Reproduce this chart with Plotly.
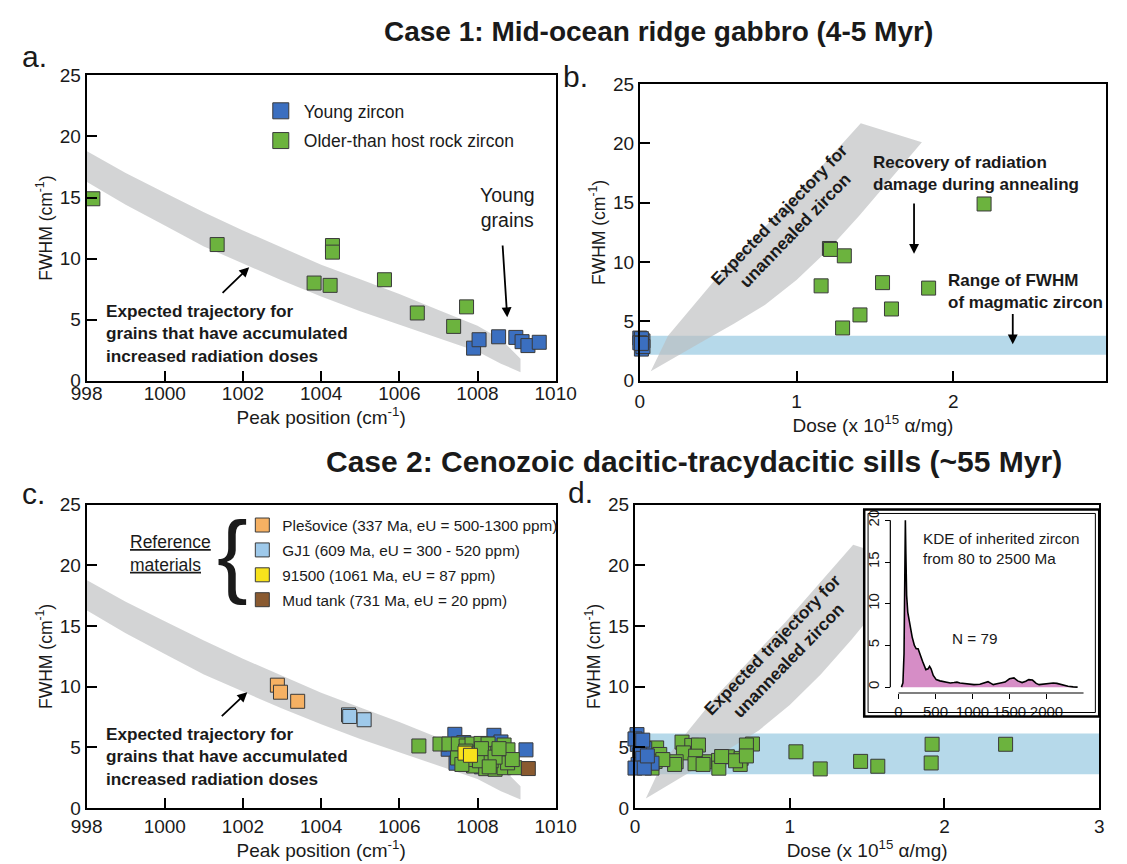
import plotly.graph_objects as go

W, H = 1127, 864
FONT = "Liberation Sans, Arial, sans-serif"
TXT = "#1a1a1a"

# ---------------- data ----------------
# Case 1 (mid-ocean ridge gabbro)
c1_old_peak = [998.16, 1001.34, 1004.29, 1004.29, 1003.82, 1004.23, 1005.62, 1006.46, 1007.39, 1007.72]
c1_old_fwhm = [14.9, 11.15, 11.07, 10.53, 8.0, 7.81, 8.27, 5.55, 4.45, 6.05]
c1_old_dose = [2.197, 1.21, 1.217, 1.305, 1.157, 1.843, 1.549, 1.405, 1.294, 1.606]
c1_young_peak = [1007.90, 1008.04, 1008.54, 1008.98, 1009.14, 1009.29, 1009.58]
c1_young_fwhm = [2.67, 3.36, 3.60, 3.55, 3.20, 2.88, 3.15]
c1_young_dose = [0.01, 0.02, 0.0, 0.01, 0.0, 0.02, 0.01]

# Expected trajectory band (peak position vs FWHM)
band_peak = [998, 999, 1000, 1001, 1002, 1003, 1004, 1005, 1006, 1007, 1008, 1008.6, 1009.1]
band_upper = [18.8, 17.0, 15.4, 13.8, 12.3, 10.9, 9.5, 8.3, 7.1, 5.8, 4.5, 3.4, 1.8]
band_lower = [16.3, 14.4, 12.7, 11.0, 9.6, 8.2, 6.9, 5.7, 4.6, 3.5, 2.4, 1.4, 0.7]

# Expected trajectory for unannealed zircon (dose vs FWHM) polygon
band_dose = [0.07, 0.18, 0.53, 0.97, 1.41, 1.80, 1.6, 1.4, 1.2, 1.0, 0.8, 0.6, 0.4, 0.2, 0.07]
band_dose_fwhm = [0.8, 3.8, 9.3, 15.3, 21.7, 20.1, 17.0, 13.9, 11.0, 8.5, 6.4, 4.8, 3.3, 1.8, 0.8]

# Range of FWHM of magmatic zircon
magmatic_b = [2.2, 3.8]
magmatic_d = [2.8, 6.15]

# Case 2 (Cenozoic sills), panel c
c2_green_peak = [1006.50, 1007.04, 1007.27, 1007.51, 1007.71, 1007.86, 1008.09, 1008.27, 1008.68, 1008.78,
                 1007.49, 1007.98, 1008.27, 1008.52, 1007.90, 1008.21, 1008.60, 1008.45, 1008.68, 1008.95,
                 1008.77, 1008.89, 1007.82, 1008.05, 1008.35, 1007.60, 1008.10, 1008.45, 1007.70, 1008.30, 1008.55]
c2_green_fwhm = [5.12, 5.28, 5.28, 5.28, 5.12, 5.28, 5.33, 5.28, 5.20, 4.80,
                 4.13, 4.53, 4.48, 4.53, 3.47, 3.25, 3.73, 3.20, 3.33, 3.33,
                 3.73, 4.00, 4.00, 3.90, 3.90, 3.60, 4.90, 4.20, 4.70, 3.40, 4.90]
c2_blue_peak = [1007.42, 1008.42, 1008.40, 1009.24, 1007.25, 1007.65, 1008.60, 1008.75, 1007.45, 1008.85, 1008.10, 1008.00]
c2_blue_fwhm = [6.08, 6.00, 5.28, 4.80, 4.85, 5.40, 5.45, 4.50, 3.70, 3.90, 3.40, 5.00]
ples_peak, ples_fwhm = [1002.88, 1002.96, 1003.40], [10.13, 9.55, 8.8]
gj1_peak, gj1_fwhm = [1004.70, 1004.73, 1005.10], [7.68, 7.55, 7.28]
z91500_peak, z91500_fwhm = [1007.68, 1007.82], [4.53, 4.35]
mud_peak, mud_fwhm = [1009.30], [3.26]

# Case 2, panel d
c2_green_dose = [1.04, 1.197, 1.458, 1.569, 1.92, 1.914, 2.395, 0.759, 0.72,
                 0.304, 0.367, 0.41, 0.313, 0.392, 0.266, 0.256, 0.388, 0.48, 0.54, 0.597,
                 0.542, 0.686, 0.68, 0.14, 0.16, 0.13, 0.11, 0.18, 0.44, 0.56, 0.65, 0.72]
c2_green_dfwhm = [4.64, 3.23, 3.85, 3.45, 5.26, 3.72, 5.26, 5.28, 5.2,
                  5.44, 5.17, 5.2, 4.55, 4.28, 3.82, 3.6, 3.66, 3.82, 3.93, 4.23,
                  3.29, 4.1, 3.6, 4.96, 4.42, 3.85, 3.3, 4.0, 3.6, 4.25, 3.9, 4.3]
c2_blue_dose = [0.013, 0.015, 0.063, 0.03, 0.02, 0.11, 0.05, 0.0, 0.06, 0.0, 0.05, 0.08]
c2_blue_dfwhm = [6.06, 5.25, 4.9, 4.4, 3.6, 3.7, 4.1, 3.3, 3.3, 5.7, 5.6, 4.3]

# KDE of inherited zircon (inset)
kde_age = [40, 60, 75, 85, 93, 100, 110, 125, 150, 185, 215, 240, 265, 290, 325, 370, 400, 420, 440,
           470, 510, 560, 600, 650, 700, 750, 790, 830, 880, 950, 1020, 1100, 1160, 1210, 1250, 1280,
           1330, 1390, 1440, 1500, 1560, 1610, 1670, 1720, 1760, 1810, 1860, 1900, 1960, 2030, 2090,
           2140, 2180, 2230, 2290, 2360, 2420]
kde_den = [0, 0.5, 4, 12, 20, 16, 11, 9, 7.5, 6.0, 5.0, 4.6, 4.6, 3.9, 3.1, 2.1, 2.2, 2.5, 2.2,
           1.4, 0.9, 0.75, 0.7, 0.6, 0.5, 0.55, 0.6, 0.5, 0.45, 0.35, 0.3, 0.35, 0.5, 0.65, 0.45, 0.3,
           0.4, 0.5, 0.6, 1.0, 1.1, 0.75, 0.55, 0.7, 0.9, 0.85, 0.45, 0.3, 0.35, 0.45, 0.5,
           0.45, 0.35, 0.2, 0.1, 0.03, 0]

peak_ticks = [998, 1000, 1002, 1004, 1006, 1008, 1010]
fwhm_ticks = [0, 5, 10, 15, 20, 25]

# ---------------- styles ----------------
BLUE = "#3b6fc0"
GREEN = "#6cb33e"
ORANGE = "#f6b163"
LBLUE = "#9ec9ea"
YELLOW = "#f7e21c"
BROWN = "#8a5a30"
BAND_GRAY = "rgba(187,189,191,0.65)"
MAG_BLUE = "#b6d9ea"


def px(xp):
    return xp / W


def py(yp):
    return 1 - yp / H


def mk(color, size=14):
    return dict(symbol="square", size=size, color=color, line=dict(color="#3a3a3a", width=1))


fig = go.Figure()

# ---- panel a ----
fig.add_trace(go.Scatter(x=band_peak + band_peak[::-1], y=band_upper + band_lower[::-1],
                         fill="toself", fillcolor=BAND_GRAY, mode="lines", line=dict(width=0),
                         hoverinfo="skip", showlegend=False, xaxis="x", yaxis="y"))
fig.add_trace(go.Scatter(x=c1_young_peak, y=c1_young_fwhm, mode="markers", marker=mk(BLUE),
                         showlegend=False, cliponaxis=False, xaxis="x", yaxis="y"))
fig.add_trace(go.Scatter(x=c1_old_peak, y=c1_old_fwhm, mode="markers", marker=mk(GREEN),
                         showlegend=False, cliponaxis=False, xaxis="x", yaxis="y"))
# legend entries (larger symbols, as in the original key)
fig.add_trace(go.Scatter(x=[None], y=[None], mode="markers", marker=mk(BLUE, 16),
                         name="Young zircon", legend="legend", legendgroup="g1", legendrank=1,
                         xaxis="x", yaxis="y"))
fig.add_trace(go.Scatter(x=[None], y=[None], mode="markers", marker=mk(GREEN, 16),
                         name="Older-than host rock zircon", legend="legend", legendgroup="g2",
                         legendrank=2, xaxis="x", yaxis="y"))

# ---- panel b ----
fig.add_trace(go.Scatter(x=band_dose, y=band_dose_fwhm, fill="toself", fillcolor=BAND_GRAY,
                         mode="lines", line=dict(width=0), hoverinfo="skip", showlegend=False,
                         xaxis="x2", yaxis="y2"))
fig.add_trace(go.Scatter(x=c1_young_dose, y=c1_young_fwhm, mode="markers", marker=mk(BLUE),
                         showlegend=False, cliponaxis=False, xaxis="x2", yaxis="y2"))
fig.add_trace(go.Scatter(x=c1_old_dose, y=c1_old_fwhm, mode="markers", marker=mk(GREEN),
                         showlegend=False, xaxis="x2", yaxis="y2"))

# ---- panel c ----
fig.add_trace(go.Scatter(x=band_peak + band_peak[::-1], y=band_upper + band_lower[::-1],
                         fill="toself", fillcolor=BAND_GRAY, mode="lines", line=dict(width=0),
                         hoverinfo="skip", showlegend=False, xaxis="x3", yaxis="y3"))
fig.add_trace(go.Scatter(x=ples_peak, y=ples_fwhm, mode="markers", marker=mk(ORANGE),
                         name="Plešovice (337 Ma, eU = 500-1300 ppm)", legend="legend2",
                         legendgroup="r1", legendrank=1, xaxis="x3", yaxis="y3"))
fig.add_trace(go.Scatter(x=gj1_peak, y=gj1_fwhm, mode="markers", marker=mk(LBLUE),
                         name="GJ1 (609 Ma, eU = 300 - 520 ppm)", legend="legend2",
                         legendgroup="r2", legendrank=2, xaxis="x3", yaxis="y3"))
fig.add_trace(go.Scatter(x=c2_blue_peak, y=c2_blue_fwhm, mode="markers", marker=mk(BLUE),
                         showlegend=False, xaxis="x3", yaxis="y3"))
fig.add_trace(go.Scatter(x=c2_green_peak, y=c2_green_fwhm, mode="markers", marker=mk(GREEN),
                         showlegend=False, xaxis="x3", yaxis="y3"))
fig.add_trace(go.Scatter(x=z91500_peak, y=z91500_fwhm, mode="markers", marker=mk(YELLOW),
                         name="91500 (1061 Ma, eU = 87 ppm)", legend="legend2",
                         legendgroup="r3", legendrank=3, xaxis="x3", yaxis="y3"))
fig.add_trace(go.Scatter(x=mud_peak, y=mud_fwhm, mode="markers", marker=mk(BROWN),
                         name="Mud tank (731 Ma, eU = 20 ppm)", legend="legend2",
                         legendgroup="r4", legendrank=4, xaxis="x3", yaxis="y3"))

# ---- panel d ----
fig.add_trace(go.Scatter(x=band_dose, y=band_dose_fwhm, fill="toself", fillcolor=BAND_GRAY,
                         mode="lines", line=dict(width=0), hoverinfo="skip", showlegend=False,
                         xaxis="x4", yaxis="y4"))
fig.add_trace(go.Scatter(x=c2_green_dose, y=c2_green_dfwhm, mode="markers", marker=mk(GREEN),
                         showlegend=False, xaxis="x4", yaxis="y4"))
fig.add_trace(go.Scatter(x=c2_blue_dose, y=c2_blue_dfwhm, mode="markers", marker=mk(BLUE),
                         showlegend=False, cliponaxis=False, xaxis="x4", yaxis="y4"))

# ---- inset KDE ----
fig.add_trace(go.Scatter(x=kde_age, y=kde_den, mode="lines", fill="tozeroy",
                         fillcolor="#d68dc6", line=dict(color="black", width=1.6),
                         showlegend=False, xaxis="x5", yaxis="y5"))


def main_axis(**kw):
    d = dict(showline=True, linewidth=2, linecolor="black", mirror=True, ticks="inside",
             ticklen=10, tickwidth=1.5, tickcolor="black", showgrid=False, zeroline=False,
             tickfont=dict(size=19, family=FONT, color=TXT),
             title_font=dict(size=19, family=FONT, color=TXT))
    d.update(kw)
    return d


peak_title = dict(text="Peak position (cm<sup>-1</sup>)", standoff=0)
dose_title = dict(text="Dose (x 10<sup>15</sup> α/mg)", standoff=0)
fwhm_title = dict(text="FWHM (cm<sup>-1</sup>)", standoff=3, font=dict(size=17.5, family=FONT, color=TXT))

layout = dict(
    width=W, height=H, margin=dict(l=0, r=0, t=0, b=0),
    paper_bgcolor="white", plot_bgcolor="white",
    font=dict(family=FONT, color=TXT),
    xaxis=main_axis(domain=[px(73), px(558)], range=[998, 1010], tickvals=peak_ticks,
                    anchor="y", title=peak_title, ticklabelstandoff=-6),
    yaxis=main_axis(domain=[py(380), py(67)], range=[0, 25], tickvals=fwhm_ticks,
                    anchor="x", title=fwhm_title),
    xaxis2=main_axis(domain=[px(645), px(1127)], range=[0, 2.975], tickvals=[0, 1, 2],
                     anchor="y2", title=dose_title, ticklabelstandoff=2),
    yaxis2=main_axis(domain=[py(380), py(76)], range=[0, 25], tickvals=fwhm_ticks,
                     anchor="x2", title=fwhm_title),
    xaxis3=main_axis(domain=[px(73), px(558)], range=[998, 1010], tickvals=peak_ticks,
                     anchor="y3", title=peak_title),
    yaxis3=main_axis(domain=[py(818), py(507)], range=[0, 25], tickvals=fwhm_ticks,
                     anchor="x3", title=fwhm_title),
    xaxis4=main_axis(domain=[px(640), px(1120)], range=[0, 3], tickvals=[0, 1, 2, 3],
                     anchor="y4", title=dose_title),
    yaxis4=main_axis(domain=[py(818), py(507)], range=[0, 25], tickvals=fwhm_ticks,
                     anchor="x4", title=fwhm_title),
    xaxis5=dict(domain=[px(877), px(1120)], range=[-463, 2712], anchor="free",
                position=py(700), showline=False, ticks="outside", ticklen=5, tickwidth=1,
                tickcolor="black", tickvals=[0, 500, 1000, 1500, 2000], showgrid=False,
                zeroline=False, tickfont=dict(size=15, family=FONT, color=TXT)),
    yaxis5=dict(domain=[py(727), py(512)], range=[-3.86, 21.29], anchor="free",
                position=px(904), showline=False, ticks="outside", ticklen=5, tickwidth=1,
                tickcolor="black", tickvals=[0, 5, 10, 15, 20], tickangle=-90,
                showgrid=False, zeroline=False,
                tickfont=dict(size=15, family=FONT, color=TXT)),
    legend=dict(x=px(250), y=py(85), xanchor="left", yanchor="top", bgcolor="rgba(0,0,0,0)",
                font=dict(size=17.5, family=FONT, color=TXT), tracegroupgap=4,
                itemsizing="trace", itemwidth=36),
    legend2=dict(x=px(234), y=py(511), xanchor="left", yanchor="top",
                 bgcolor="rgba(0,0,0,0)", font=dict(size=15.3, family=FONT, color=TXT),
                 tracegroupgap=2, itemsizing="trace"),
)
fig.update_layout(**layout)

shapes = [
    dict(type="rect", xref="x2 domain", x0=0, x1=1, yref="y2", y0=magmatic_b[0], y1=magmatic_b[1],
         fillcolor=MAG_BLUE, line=dict(width=0), layer="below"),
    dict(type="rect", xref="x4 domain", x0=0, x1=1, yref="y4", y0=magmatic_d[0], y1=magmatic_d[1],
         fillcolor=MAG_BLUE, line=dict(width=0), layer="below"),
    # inset frame
    dict(type="rect", xref="paper", yref="paper", x0=px(877), x1=px(1120), y0=py(724), y1=py(512),
         line=dict(color="black", width=2.5), fillcolor="rgba(0,0,0,0)", layer="above"),
    dict(type="rect", xref="paper", yref="paper", x0=px(881), x1=px(1116), y0=py(720), y1=py(516),
         line=dict(color="black", width=1), fillcolor="rgba(0,0,0,0)", layer="above"),
    # inset axis lines (R style)
    dict(type="line", xref="x5", x0=0, x1=2500, yref="paper", y0=py(700), y1=py(700),
         line=dict(color="black", width=1.2)),
    dict(type="line", xref="paper", x0=px(904), x1=px(904), yref="y5", y0=0, y1=20,
         line=dict(color="black", width=1.2)),
]
fig.update_layout(shapes=shapes)

ann = []


def txt(text, x, y, xref="paper", yref="paper", size=16, bold=False, xanchor="center",
        yanchor="middle", angle=0, align="center"):
    ann.append(dict(text=f"<b>{text}</b>" if bold else text, x=x, y=y, xref=xref, yref=yref,
                    showarrow=False, xanchor=xanchor, yanchor=yanchor, textangle=angle,
                    align=align, font=dict(size=size, family=FONT, color=TXT)))


def arrow(x, y, ax, ay, xref, yref):
    ann.append(dict(text="", x=x, y=y, ax=ax, ay=ay, xref=xref, yref=yref, axref=xref,
                    ayref=yref, showarrow=True, arrowhead=2, arrowsize=1.1, arrowwidth=1.8,
                    arrowcolor="black"))


# titles and panel letters
txt("Case 1: Mid-ocean ridge gabbro (4-5 Myr)", px(664), py(22), size=28, bold=True)
txt("Case 2: Cenozoic dacitic-tracydacitic sills (~55 Myr)", px(701), py(463), size=30, bold=True)
txt("a.", px(4), py(48), size=30, xanchor="left")
txt("b.", px(563), py(68), size=30, xanchor="left")
txt("c.", px(4), py(496), size=30, xanchor="left")
txt("d.", px(569), py(495), size=30, xanchor="left")

# panel a
txt("Expected trajectory for<br>grains that have accumulated<br>increased radiation doses",
    998.45, 3.83, "x", "y", size=17.2, bold=True, xanchor="left", align="left")
arrow(1002.16, 9.3, 1001.44, 7.07, "x", "y")
txt("Young<br>grains", 1008.78, 14.2, "x", "y", size=19.5)
arrow(1008.76, 5.2, 1008.64, 11.2, "x", "y")

# panel b
txt("Expected trajectory for<br>unannealed zircon", 0.94, 13.4, "x2", "y2", size=17.2,
    bold=True, angle=-46)
txt("Recovery of radiation<br>damage during annealing", 1.478, 17.5, "x2", "y2", size=17,
    bold=True, xanchor="left", align="left")
arrow(1.75, 10.7, 1.75, 15.07, "x2", "y2")
txt("Range of FWHM<br>of magmatic zircon", 1.953, 7.5, "x2", "y2", size=17, bold=True,
    xanchor="left", align="left")
arrow(2.38, 3.07, 2.38, 5.75, "x2", "y2")

# panel c
txt("Expected trajectory for<br>grains that have accumulated<br>increased radiation doses",
    998.45, 4.27, "x3", "y3", size=17.2, bold=True, xanchor="left", align="left")
arrow(1002.11, 9.55, 1001.42, 7.47, "x3", "y3")
txt("<u>Reference</u><br><u>materials</u>", px(116), py(557), size=17.5, xanchor="left",
    align="left")
txt("{", px(224), py(558), size=92)

# panel d
txt("Expected trajectory for<br>unannealed zircon", 0.94, 12.9, "x4", "y4", size=17.2,
    bold=True, angle=-46)
txt("KDE of inherited zircon<br>from 80 to 2500 Ma", 300, 16.6, "x5", "y5", size=15.3,
    xanchor="left", align="left")
txt("N = 79", 1032, 5.85, "x5", "y5", size=15.3)

fig.update_layout(annotations=ann)

fig.write_html("out.html", config={"displayModeBar": False},
               post_script="document.body.style.margin='0';")
